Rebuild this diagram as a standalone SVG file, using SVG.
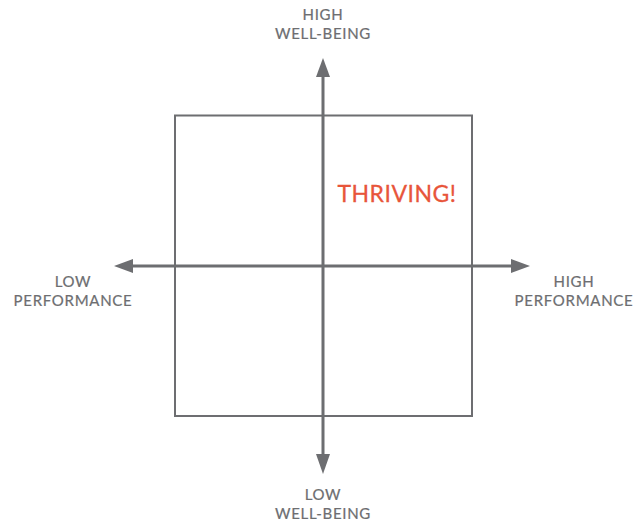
<svg xmlns="http://www.w3.org/2000/svg" width="634" height="523" viewBox="0 0 634 523">
<style>
.lbl{font-family:Lato,"Liberation Sans",sans-serif;font-size:15px;fill:#6d6e71;text-anchor:middle;letter-spacing:0.7px;stroke:#6d6e71;stroke-width:0.2px}
.ax{stroke:#6d6e71;stroke-width:3;fill:none}
.hd{fill:#6d6e71}
</style>
<rect width="634" height="523" fill="#ffffff"/>
<g id="quadrant-box"><rect x="175" y="115.5" width="297" height="300.5" fill="none" stroke="#6d6e71" stroke-width="2"/></g>
<g id="connectors">
<line class="ax" x1="323" y1="75" x2="323" y2="456"/>
<line class="ax" x1="131" y1="266" x2="512" y2="266"/>
<polygon class="hd" points="323,58 316,77 330,77"/>
<polygon class="hd" points="323,474 316,454 330,454"/>
<polygon class="hd" points="114,266 133,259 133,273"/>
<polygon class="hd" points="530,266 511,259 511,273"/>
</g>
<g id="top-label"><text class="lbl" x="323" y="20">HIGH</text><text class="lbl" x="323" y="39">WELL-BEING</text></g>
<g id="bottom-label"><text class="lbl" x="323" y="500">LOW</text><text class="lbl" x="323" y="519">WELL-BEING</text></g>
<g id="left-label"><text class="lbl" x="73" y="287">LOW</text><text class="lbl" x="73" y="306">PERFORMANCE</text></g>
<g id="right-label"><text class="lbl" x="574" y="287">HIGH</text><text class="lbl" x="574" y="306">PERFORMANCE</text></g>
<g id="thriving"><text x="397" y="202" font-family="Lato,'Liberation Sans',sans-serif" font-size="23" fill="#e8553a" stroke="#e8553a" stroke-width="0.3" text-anchor="middle" letter-spacing="0.5">THRIVING!</text></g>
</svg>
